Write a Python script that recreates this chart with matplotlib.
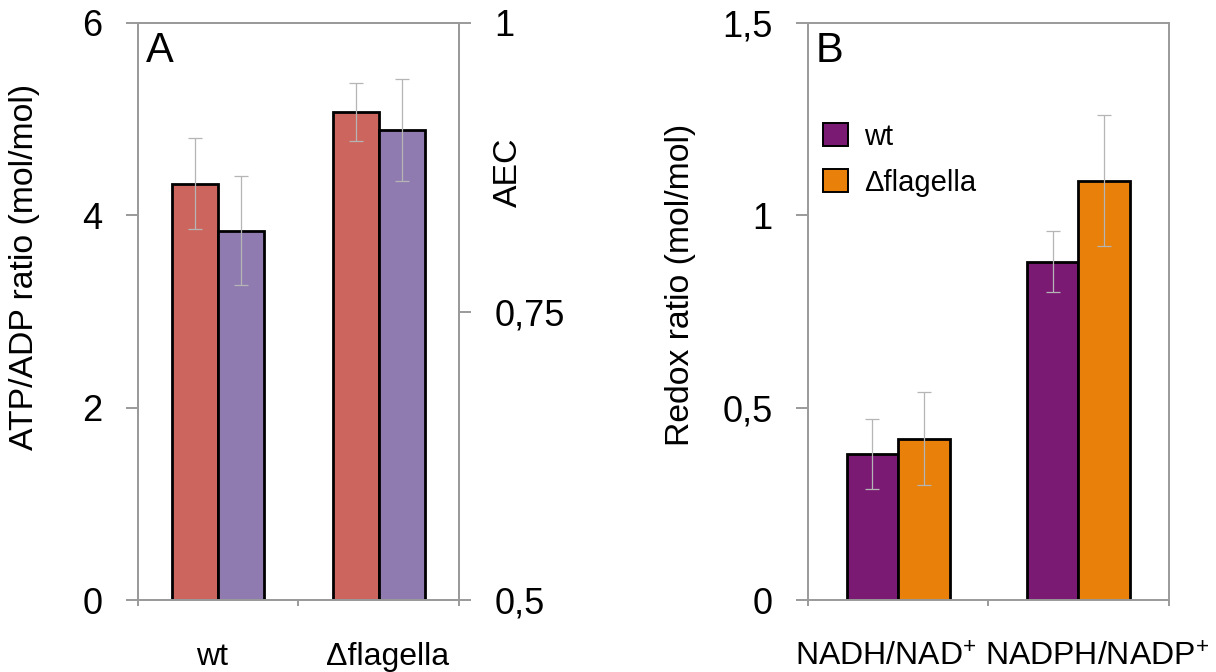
import numpy as np
import matplotlib
matplotlib.use("Agg")
import matplotlib.pyplot as plt
from matplotlib.transforms import ScaledTranslation

plt.rcParams["font.family"] = ["Liberation Sans", "DejaVu Sans"]
plt.rcParams["mathtext.fontset"] = "custom"
plt.rcParams["mathtext.rm"] = "Liberation Sans"
plt.rcParams["mathtext.it"] = "Liberation Sans"

# ---- data -----------------------------------------------------------------
strains = ["wt", "\u0394flagella"]
atp_adp = [4.33, 5.07]          # left axis (mol/mol)
atp_adp_err = [0.47, 0.30]
aec = [0.820, 0.907]            # right axis
aec_err = [0.047, 0.044]

redox_cats = ["NADH/NAD$^{+}$", "NADPH/NADP$^{+}$"]
redox_wt = [0.38, 0.88]
redox_wt_err = [0.09, 0.08]
redox_flag = [0.42, 1.09]
redox_flag_err = [0.12, 0.17]

# ---- style ----------------------------------------------------------------
RED = "#cc655d"
LILAC = "#8f7bb0"
PURPLE = "#7a1a73"
ORANGE = "#e8800a"
SPINE = "#9a9a9a"
ERR = "#b5b5b5"
W = 0.286
LABEL_FS = 24.3

err_kw = dict(ecolor=ERR, elinewidth=0.9, capsize=5, capthick=0.9)
bar_kw = dict(edgecolor="black", linewidth=2.0, zorder=2)


def frame(ax):
    for s in ax.spines.values():
        s.set_color(SPINE)
        s.set_linewidth(1.4)
    ax.set_xlim(-0.5, 1.5)
    ax.set_xticks([-0.5, 0.5, 1.5])
    ax.set_xticklabels([])
    ax.tick_params(axis="x", which="major", length=4, width=1.4, color=SPINE,
                   direction="out")
    ax.tick_params(axis="y", length=8.5, width=1.4, color=SPINE,
                   direction="out", labelsize=26, pad=17)
    ax.set_xticks([0, 1], minor=True)
    ax.tick_params(axis="x", which="minor", length=0, labelsize=23, pad=30)


def shift_labels(ax, shifts_px):
    for lab, dx in zip(ax.get_xticklabels(minor=True), shifts_px):
        lab.set_transform(lab.get_transform()
                          + ScaledTranslation(dx / 100, 0, fig.dpi_scale_trans))


fig = plt.figure(figsize=(12.16, 6.72), dpi=100)

# ---- panel A --------------------------------------------------------------
ax = fig.add_axes([0.1132, 0.1064, 0.2643, 0.8598])
x = np.arange(len(strains))
ax.bar(x - W / 2, atp_adp, W, color=RED, **bar_kw)
ax.errorbar(x - W / 2, atp_adp, yerr=atp_adp_err, fmt="none", zorder=3, **err_kw)
ax.set_ylim(0, 6)
ax.set_yticks([0, 2, 4, 6])
frame(ax)
ax.set_xticklabels(strains, minor=True)
shift_labels(ax, [-6, 9])
ax.set_ylabel("ATP/ADP ratio (mol/mol)", fontsize=LABEL_FS)
ax.yaxis.set_label_coords(-0.305, 0.577)
ax.text(0.025, 0.985, "A", transform=ax.transAxes, fontsize=30,
        ha="left", va="top")

ax2 = ax.twinx()
ax2.bar(x + W / 2, aec, W, color=LILAC, **bar_kw)
ax2.errorbar(x + W / 2, aec, yerr=aec_err, fmt="none", zorder=3, **err_kw)
ax2.set_ylim(0.5, 1)
ax2.set_yticks([0.5, 0.75, 1])
ax2.set_yticklabels(["0,5", "0,75", "1"])
for s in ax2.spines.values():
    s.set_color(SPINE)
    s.set_linewidth(1.4)
ax2.tick_params(axis="y", length=8.5, width=1.4, color=SPINE,
                direction="out", labelsize=26, pad=17)
ax2.set_ylabel("AEC", fontsize=LABEL_FS)
ax2.yaxis.set_label_coords(1.105, 0.741)

# ---- panel B --------------------------------------------------------------
bx = fig.add_axes([0.6645, 0.1064, 0.2965, 0.8598])
x = np.arange(len(redox_cats))
bx.bar(x - W / 2, redox_wt, W, color=PURPLE, label="wt", **bar_kw)
bx.bar(x + W / 2, redox_flag, W, color=ORANGE, label="\u0394flagella", **bar_kw)
bx.errorbar(x - W / 2, redox_wt, yerr=redox_wt_err, fmt="none", zorder=3, **err_kw)
bx.errorbar(x + W / 2, redox_flag, yerr=redox_flag_err, fmt="none", zorder=3,
            **err_kw)
bx.set_ylim(0, 1.5)
bx.set_yticks([0, 0.5, 1, 1.5])
bx.set_yticklabels(["0", "0,5", "1", "1,5"])
frame(bx)
bx.set_xticklabels(redox_cats, minor=True)
shift_labels(bx, [-12, 19])
bx.set_ylabel("Redox ratio (mol/mol)", fontsize=LABEL_FS)
bx.yaxis.set_label_coords(-0.311, 0.546)
bx.text(0.02, 0.985, "B", transform=bx.transAxes, fontsize=30,
        ha="left", va="top")
leg = bx.legend(loc="upper left", bbox_to_anchor=(-0.015, 0.862), frameon=False,
                fontsize=21, handlelength=0.85, handleheight=0.85,
                handletextpad=0.55, labelspacing=0.62, borderaxespad=0.3)
for h in leg.legend_handles:
    h.set_linewidth(1.4)

fig.savefig("out.png", dpi=100)
